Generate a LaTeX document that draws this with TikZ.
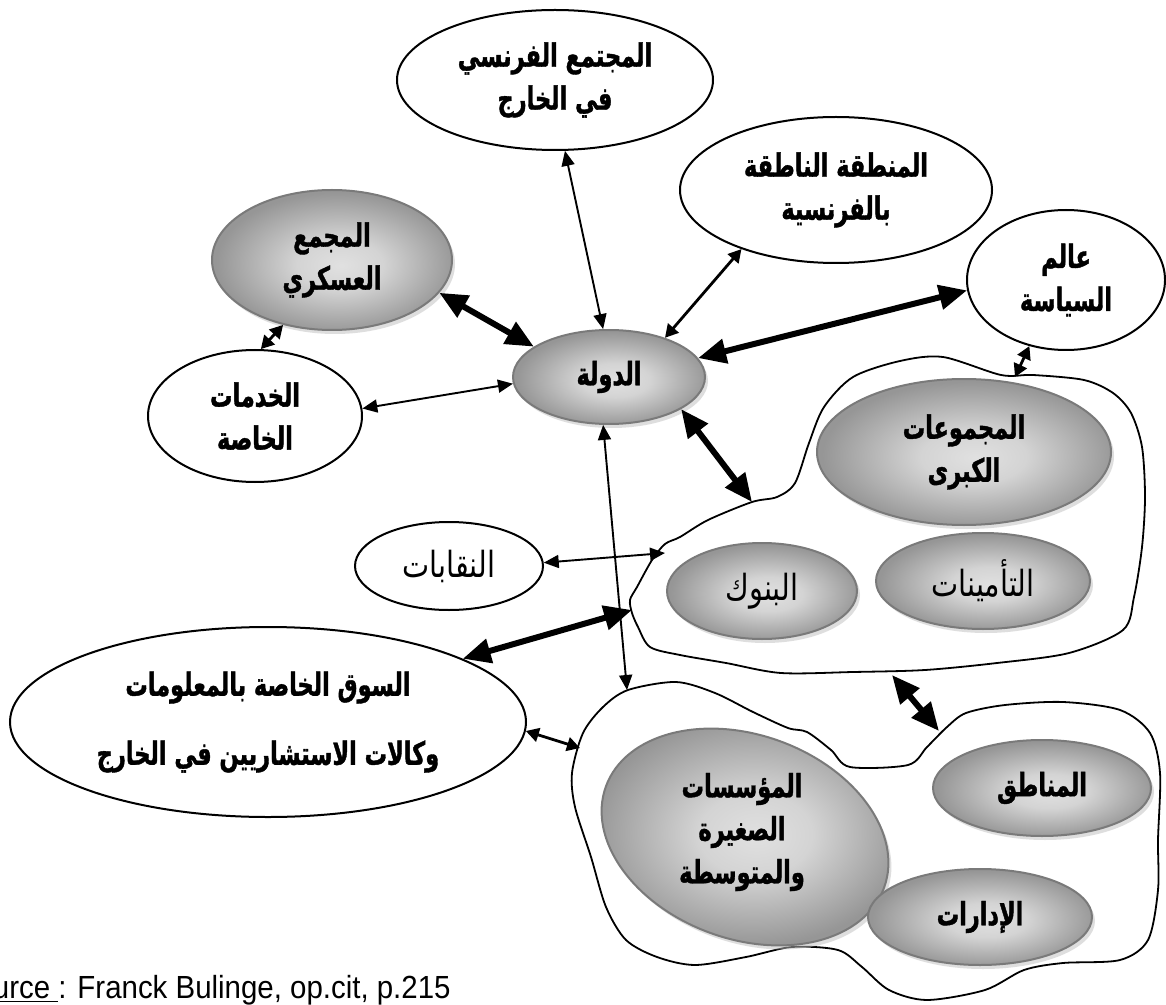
\documentclass[tikz,border=0pt]{standalone}
\usepackage{fontspec}
\setmainfont{Liberation Sans}
\newfontfamily\srcfont[FakeStretch=0.92]{Liberation Sans}
\newfontfamily\arb[Script=Arabic,FakeStretch=0.7,BoldFeatures={FakeBold=1.2}]{DejaVu Sans}
\newfontfamily\arbr[Script=Arabic,FakeStretch=0.8]{DejaVu Sans}
\TeXXeTstate=1
\usetikzlibrary{shapes.geometric,arrows.meta,shadows}
% one right-to-left line of zero width, so the ellipse keeps its set size
\newcommand{\arline}[1]{\makebox[0pt]{\beginR #1\endR}}
% light centre, darker rim
\pgfdeclareradialshading{grayball}{\pgfpoint{2bp}{-2bp}}{%
  color(0bp)=(black!12); color(9bp)=(black!17); color(25bp)=(black!41); color(50bp)=(black!45)}
\tikzset{
  lbl/.style={ellipse, inner sep=0pt, align=center,
    font=\arb\bfseries\fontsize{16}{21.5}\selectfont},
  dims/.style 2 args={minimum width=#1pt, minimum height=#2pt},
  whiteell/.style={lbl, draw=black, line width=1pt, fill=white},
  grayell/.style={lbl, draw=black!52, line width=1pt, shading=grayball,
    drop shadow={shadow xshift=1.5pt, shadow yshift=-2pt, fill=black!25}},
  plain/.style={font=\arbr\fontsize{18}{20}\selectfont},
  blob/.style={draw=black, line width=0.9pt, fill=white, line join=round},
  thinarr/.style={<->, >={Triangle[length=7.5pt,width=6.5pt]}, line width=0.95pt},
  medarr/.style={<->, >={Triangle[length=6.5pt,width=7pt]}, line width=1.4pt},
  thickarr/.style={<->, >={Triangle[length=14pt,width=12pt]}, line width=3pt},
}
\begin{document}
\begin{tikzpicture}[x=0.5pt,y=-0.5pt]
\clip (0,0) rectangle (1166,1005);
\fill[white] (0,0) rectangle (1166,1005);

% outlines of the two groups
\draw[blob] plot[smooth cycle, tension=0.5] coordinates {
  (1001,375) (943,357) (900,361) (853,377) (824,407) (809,443) (795,483)
  (777,497) (752,502) (708,520) (680,537) (665,544) (652,560) (637,587)
  (630,600) (632,613) (638,627) (650,647) (680,655) (726,663) (781,673)
  (853,672) (925,670) (997,663) (1069,653) (1123,630) (1134,597) (1142,547)
  (1145,497) (1142,447) (1131,413) (1113,393) (1084,380) (1033,375)};
\draw[blob] plot[smooth cycle, tension=0.5] coordinates {
  (628,690) (676,682) (715,693) (753,712) (788,728) (807,732) (831,750)
  (850,767) (908,765) (927,747) (947,727) (966,713) (1005,705) (1063,702)
  (1120,710) (1150,733) (1160,773) (1158,840) (1158,890) (1148,940)
  (1120,960) (1063,963) (1024,970) (985,990) (927,1000) (889,990) (862,967)
  (838,950) (792,947) (746,957) (695,965) (657,957) (626,940) (606,907)
  (591,857) (575,807) (572,773) (583,733) (603,707)};

% attachment points on the outlines
\coordinate (b1n) at (1015,377);
\coordinate (b1nw) at (752,502);
\coordinate (b1w) at (665,553);
\coordinate (b1sw) at (632,610);
\coordinate (b1s) at (892,675);
\coordinate (b2n) at (627,690);
\coordinate (b2w) at (580,748);
\coordinate (b2ne) at (939,731);

% actors
\node[whiteell, dims={158}{70}] (soc) at (555,80) {\arline{المجتمع الفرنسي}\\\arline{في الخارج}};
\node[whiteell, dims={156}{73}] (fra) at (836,190) {\arline{المنطقة الناطقة}\\\arline{بالفرنسية}};
\node[whiteell, dims={99}{70}] (pol) at (1066,280) {\arline{عالم}\\\arline{السياسة}};
\node[grayell, dims={120}{70}] (mil) at (332,260) {\arline{المجمع}\\\arline{العسكري}};
\node[whiteell, dims={107}{66}] (srv) at (255,416) {\arline{الخدمات}\\\arline{الخاصة}};
\node[grayell, dims={96}{47}] (dawla) at (609,377) {\arline{الدولة}};
\node[grayell, dims={147}{73}] (grp) at (964,452) {\arline{المجموعات}\\\arline{الكبرى}};
\node[grayell, plain, dims={95}{48}] (bnk) at (762,591) {\arline{البنوك}};
\node[grayell, plain, dims={107}{48}] (ins) at (983,581) {\arline{التأمينات}};
\node[whiteell, plain, dims={94}{44}] (uni) at (449,566) {\arline{النقابات}};
\node[whiteell, dims={258}{95}] (mkt) at (268,722)
  {\arline{السوق الخاصة بالمعلومات}\\[13pt]\arline{وكالات الاستشاريين في الخارج}};
\node[grayell, dims={148}{102}, rotate=-20] (pme) at (745,837) {};
\node[lbl] (pmetext) at (742,832) {\arline{المؤسسات}\\\arline{الصغيرة}\\\arline{والمتوسطة}};
\node[grayell, dims={109}{48}] (reg) at (1042,788) {\arline{المناطق}};
\node[grayell, dims={112}{48}] (adm) at (980,917) {\arline{الإدارات}};

% relations
\draw[thinarr] (soc.-82) -- (dawla.97);
\draw[medarr] (fra.212) -- (dawla.35);
\draw[thickarr] (pol.186) -- (dawla.12);
\draw[medarr] (pol.241) -- (b1n);
\draw[thickarr] (dawla.-24) -- (b1nw);
\draw[thickarr] (mil.-17) -- (dawla.158);
\draw[medarr] (mil.233) -- (srv.85);
\draw[thinarr] (srv.4) -- (dawla.184);
\draw[thinarr] (uni.2) -- (b1w);
\draw[thickarr] (mkt.18) -- (b1sw);
\draw[thinarr] (dawla.263) -- (b2n);
\draw[medarr] (mkt.-2) -- (b2w);
\draw[thickarr] (b1s) -- (b2ne);

% reference line
\node[anchor=base east, font=\srcfont\fontsize{16}{18}\selectfont, inner sep=0pt] (src) at (451,998)
  {\underline{Source }: Franck Bulinge, op.cit, p.215};
\end{tikzpicture}
\end{document}
